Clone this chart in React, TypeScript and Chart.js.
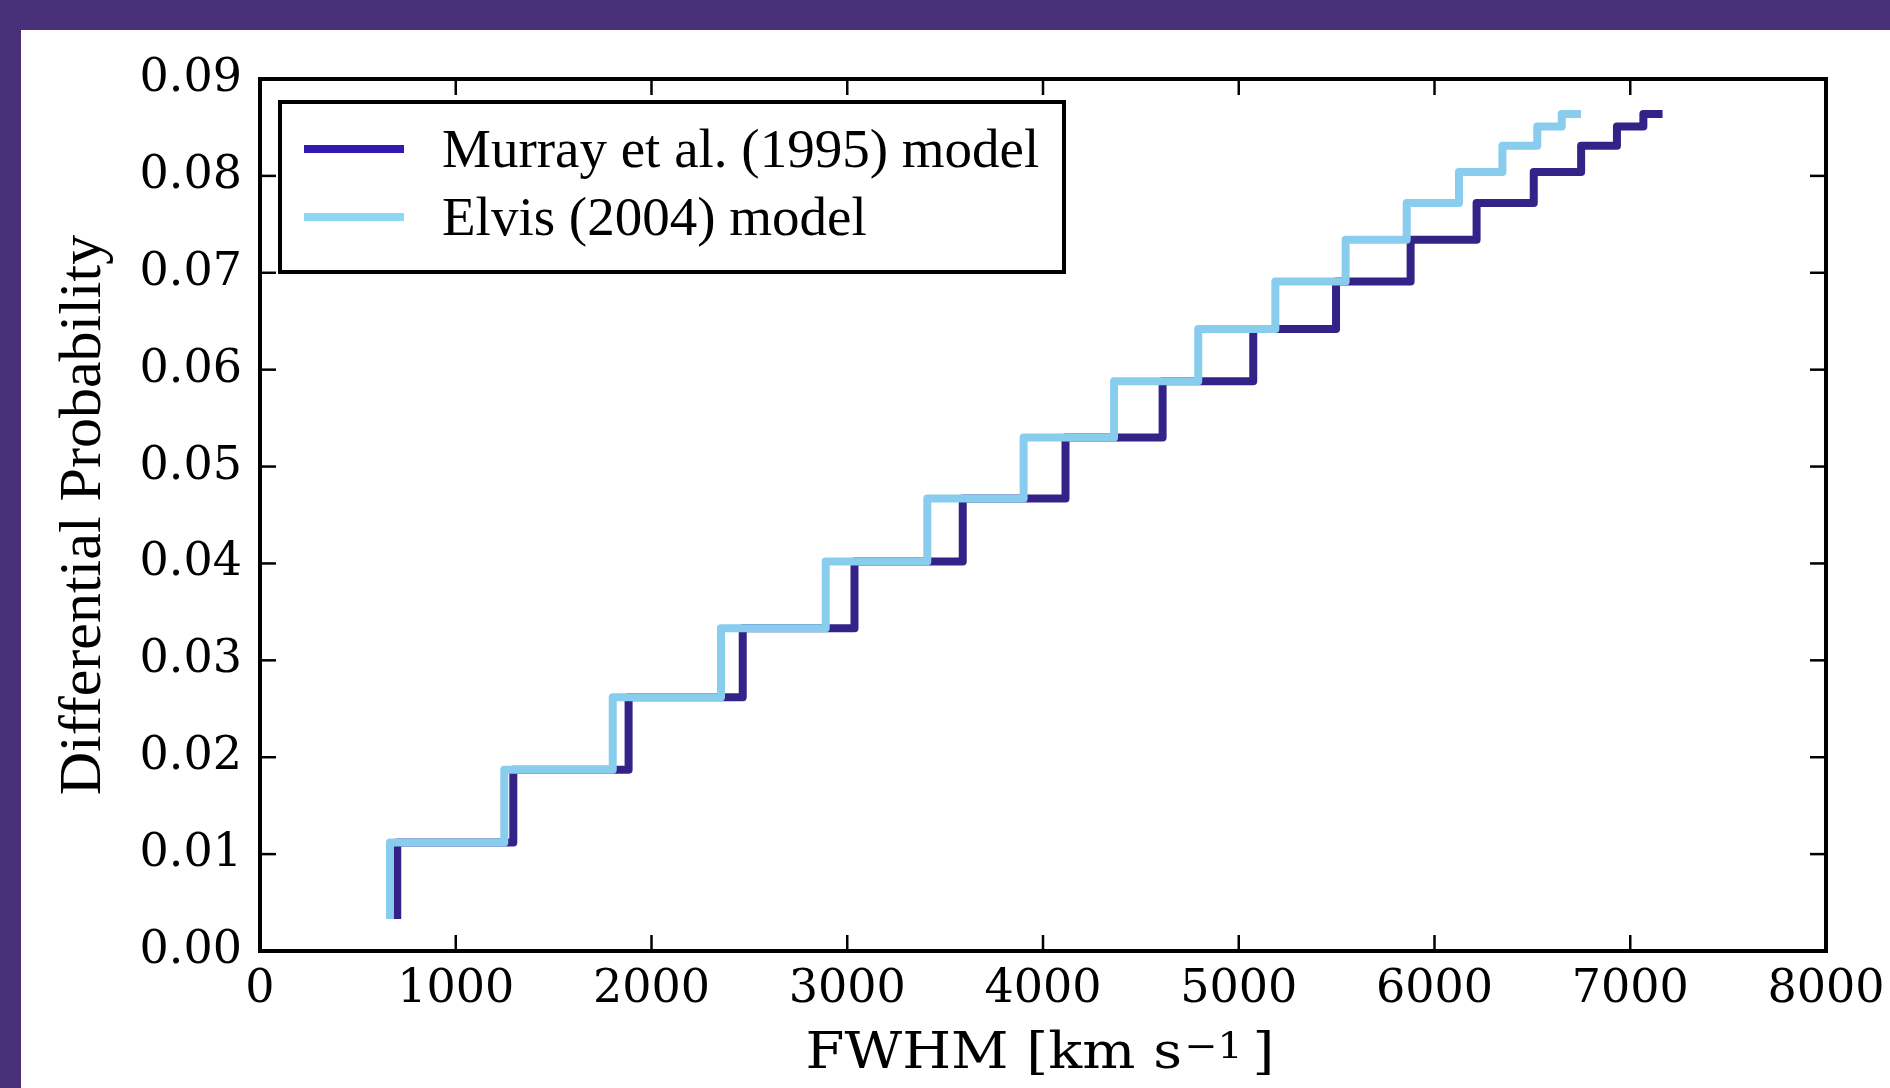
import React, { useEffect, useRef } from 'react';
import { Chart, registerables } from 'chart.js';

Chart.register(...registerables);

// Bin edges (km/s) where each step rises, last value = end of the final step
const murrayFwhm = [701, 1294, 1883, 2466, 3037, 3590, 4115, 4611, 5074, 5497, 5878, 6215, 6507, 6749, 6932, 7067, 7165];
const elvisFwhm = [664, 1248, 1802, 2355, 2890, 3409, 3901, 4363, 4793, 5187, 5546, 5858, 6125, 6347, 6525, 6650, 6748];
// Differential probability levels
const murrayProb = [0.0033, 0.0112, 0.0187, 0.0262, 0.0333, 0.0402, 0.0467, 0.053, 0.0588, 0.0642, 0.0691, 0.0734, 0.0772, 0.0804, 0.0831, 0.0851, 0.0864];
const elvisProb = [0.0033, 0.0112, 0.0187, 0.0262, 0.0333, 0.0402, 0.0467, 0.053, 0.0588, 0.0642, 0.0691, 0.0734, 0.0772, 0.0804, 0.0831, 0.0851, 0.0864];

const seriesLabels = ['Murray et al. (1995) model', 'Elvis (2004) model'];
const seriesColors = ['#332288', '#88CCEE'];
const legendColors = ['#3219B0', '#8CD8F6'];
const xTitleMain = 'FWHM [km s';
const xTitleSup = '\u22121';
const xTitleEnd = ']';
const yTitle = 'Differential Probability';

const TICK_FONT = 'DejaVu Serif';
const LATEX_FONT = 'Liberation Serif';

const framePlugin = {
  id: 'frameTicksLegend',
  afterDatasetsDraw(chart: any) {
    const { ctx, chartArea: a, scales } = chart;
    ctx.save();
    ctx.strokeStyle = '#000';
    ctx.lineCap = 'butt';
    const tl = 16;
    ctx.lineWidth = 2.5;
    const seg = (x1: number, y1: number, x2: number, y2: number) => {
      ctx.beginPath();
      ctx.moveTo(x1, y1);
      ctx.lineTo(x2, y2);
      ctx.stroke();
    };
    scales.x.ticks.forEach((t: any) => {
      const px = scales.x.getPixelForValue(t.value);
      seg(px, a.bottom, px, a.bottom - tl);
      seg(px, a.top, px, a.top + tl);
    });
    scales.y.ticks.forEach((t: any) => {
      const py = scales.y.getPixelForValue(t.value);
      seg(a.left, py, a.left + tl, py);
      seg(a.right, py, a.right - tl, py);
    });
    ctx.lineWidth = 4;
    ctx.strokeRect(a.left, a.top, a.right - a.left, a.bottom - a.top);

    // legend box
    const bx = a.left + 20;
    const by = a.top + 23;
    const bw = 784;
    const bh = 170;
    ctx.fillStyle = '#fff';
    ctx.fillRect(bx, by, bw, bh);
    ctx.lineWidth = 4;
    ctx.strokeRect(bx, by, bw, bh);
    const rowsY = [by + 47, by + 115];
    seriesLabels.forEach((lab, i) => {
      ctx.strokeStyle = legendColors[i];
      ctx.lineWidth = 8;
      seg(bx + 24, rowsY[i], bx + 124, rowsY[i]);
      ctx.fillStyle = '#000';
      ctx.font = `55px "${LATEX_FONT}"`;
      ctx.textBaseline = 'middle';
      ctx.textAlign = 'left';
      ctx.fillText(lab, bx + 162, rowsY[i] + 4);
    });

    // x-axis title with superscript
    const F = 51;
    const sx = 1.1;
    const mainFont = `${F}px "${TICK_FONT}"`;
    const supFont = `${Math.round(F * 0.7)}px "${TICK_FONT}"`;
    ctx.font = mainFont;
    const wMain = ctx.measureText(xTitleMain).width;
    const wEnd = ctx.measureText(xTitleEnd).width;
    ctx.font = supFont;
    const wSup = ctx.measureText(xTitleSup).width;
    const gap1 = 2;
    const gap2 = 9;
    const total = (wMain + gap1 + wSup + gap2 + wEnd) * sx;
    const cx = (a.left + a.right) / 2 - 3;
    const base = a.bottom + 117;
    ctx.translate(cx - total / 2, base);
    ctx.scale(sx, 1);
    ctx.fillStyle = '#000';
    ctx.textBaseline = 'alphabetic';
    ctx.textAlign = 'left';
    ctx.font = mainFont;
    ctx.fillText(xTitleMain, 0, 0);
    ctx.font = supFont;
    ctx.fillText(xTitleSup, wMain + gap1, -F * 0.2);
    ctx.font = mainFont;
    ctx.fillText(xTitleEnd, wMain + gap1 + wSup + gap2, 0);
    ctx.restore();
  },
};

export default function App() {
  const ref = useRef<HTMLCanvasElement | null>(null);

  useEffect(() => {
    document.body.style.margin = '0';
    document.body.style.overflow = 'hidden';
    const canvas = ref.current;
    if (!canvas) return;
    const mk = (xs: number[], ys: number[]) => xs.map((x, i) => ({ x, y: ys[i] }));
    const chart = new Chart(canvas, {
      type: 'line',
      data: {
        datasets: [
          {
            label: seriesLabels[0],
            data: mk(murrayFwhm, murrayProb),
            borderColor: seriesColors[0],
            borderWidth: 8,
            stepped: 'after',
            pointRadius: 0,
            fill: false,
            borderJoinStyle: 'round',
            borderCapStyle: 'butt',
            order: 2,
          },
          {
            label: seriesLabels[1],
            data: mk(elvisFwhm, elvisProb),
            borderColor: seriesColors[1],
            borderWidth: 8,
            stepped: 'after',
            pointRadius: 0,
            fill: false,
            borderJoinStyle: 'round',
            borderCapStyle: 'butt',
            order: 1,
          },
        ],
      },
      options: {
        animation: false,
        responsive: false,
        maintainAspectRatio: false,
        layout: { padding: { top: 79, right: 64, left: 0, bottom: 0 } },
        plugins: { legend: { display: false }, tooltip: { enabled: false } },
        scales: {
          x: {
            type: 'linear',
            min: 0,
            max: 8000,
            grid: { display: false },
            border: { display: false },
            ticks: {
              stepSize: 1000,
              autoSkip: false,
              maxRotation: 0,
              padding: 3,
              color: '#000',
              font: { family: TICK_FONT, size: 46 },
              callback: (v: any) => String(v),
            },
            title: { display: false },
            afterFit: (s: any) => {
              s.height = 137;
            },
          },
          y: {
            type: 'linear',
            min: 0,
            max: 0.09,
            grid: { display: false },
            border: { display: false },
            ticks: {
              stepSize: 0.01,
              autoSkip: false,
              padding: 10,
              color: '#000',
              font: { family: TICK_FONT, size: 46 },
              callback: (v: any) => Number(v).toFixed(2),
            },
            title: {
              display: true,
              text: yTitle,
              color: '#000',
              font: { family: LATEX_FONT, size: 60, lineHeight: 1.2 },
              padding: { top: 48, bottom: 0 },
            },
            afterFit: (s: any) => {
              s.width = 260;
            },
          },
        },
      },
      plugins: [framePlugin],
    } as any);
    return () => chart.destroy();
  }, []);

  return (
    <div
      style={{
        position: 'absolute',
        left: 0,
        top: 0,
        width: 1890,
        height: 1088,
        background: '#fff',
        overflow: 'hidden',
      }}
    >
      <canvas ref={ref} width={1890} height={1088} style={{ position: 'absolute', left: 0, top: 0 }} />
      <div style={{ position: 'absolute', left: 0, top: 0, width: 1890, height: 30, background: '#483178' }} />
      <div style={{ position: 'absolute', left: 0, top: 0, width: 21, height: 1088, background: '#483178' }} />
    </div>
  );
}
